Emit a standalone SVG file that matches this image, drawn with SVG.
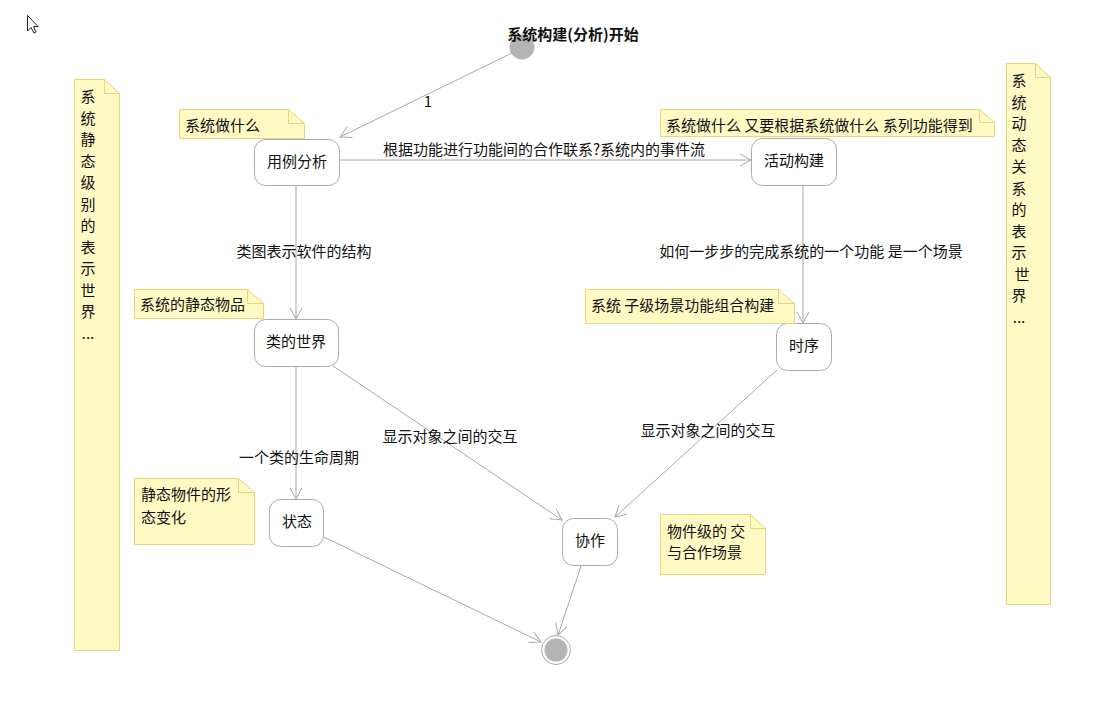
<svg xmlns="http://www.w3.org/2000/svg" width="1097" height="725" viewBox="0 0 1097 725">
<defs>
<marker id="arr" markerWidth="14" markerHeight="14" refX="12" refY="6" orient="auto" markerUnits="userSpaceOnUse">
<path d="M1,0 L12,6 L1,12" fill="none" stroke="#a8a8a8" stroke-width="1"/>
</marker>
<style>
text{font-family:"Microsoft YaHei","Noto Sans CJK SC","Noto Sans",sans-serif;font-size:15px;fill:#111}
.node{fill:#fff;stroke:#aaa;stroke-width:1}
.note{fill:#fff9c4;stroke:#e8d47a;stroke-width:1}
.fold{fill:none;stroke:#e8d47a;stroke-width:1}
.edge{fill:none;stroke:#a8a8a8;stroke-width:1;marker-end:url(#arr)}
.c{text-anchor:middle}
</style>
</defs>
<rect width="1097" height="725" fill="#fff"/>
<path d="M27.5,15.5 L27.5,31 L31,27.5 L34,33 L36,32 L33.5,26.5 L38,26.5 Z" fill="#fff" stroke="#222" stroke-width="1"/>

<g id="connectors">
<line class="edge" x1="512" y1="53" x2="340" y2="137"/>
<text x="428" y="107" class="c">1</text>
<line class="edge" x1="340" y1="160" x2="751" y2="160"/>
<text x="383" y="155">根据功能进行功能间的合作联系?系统内的事件流</text>
<line class="edge" x1="296" y1="186" x2="296" y2="319"/>
<text x="304" y="257" class="c">类图表示软件的结构</text>
<line class="edge" x1="803" y1="186" x2="803" y2="323"/>
<text x="811" y="257" class="c">如何一步步的完成系统的一个功能 是一个场景</text>
<line class="edge" x1="296" y1="367" x2="296" y2="499"/>
<text x="299" y="463" class="c">一个类的生命周期</text>
<line class="edge" x1="333" y1="366" x2="562" y2="520"/>
<text x="450" y="442" class="c">显示对象之间的交互</text>
<line class="edge" x1="777" y1="370" x2="615" y2="517"/>
<text x="708" y="436" class="c">显示对象之间的交互</text>
<line class="edge" x1="581" y1="566" x2="558" y2="635"/>
<line class="edge" x1="324" y1="537" x2="541" y2="642"/>
</g>

<g id="start">
<circle cx="522" cy="47" r="12.5" fill="#b4b4b4"/>
<text x="573" y="40" class="c" font-weight="bold">系统构建(分析)开始</text>
</g>

<g id="n-usecase">
<rect class="node" x="254.5" y="139.5" width="85" height="46" rx="11"/>
<text x="297" y="167" class="c">用例分析</text>
</g>
<g id="n-activity">
<rect class="node" x="751.5" y="138.5" width="85" height="47" rx="11"/>
<text x="794" y="166" class="c">活动构建</text>
</g>
<g id="n-class">
<rect class="node" x="254.5" y="319.5" width="84" height="47" rx="11"/>
<text x="296" y="347" class="c">类的世界</text>
</g>
<g id="n-seq">
<rect class="node" x="776.5" y="323.5" width="55" height="47" rx="11"/>
<text x="804" y="351" class="c">时序</text>
</g>
<g id="n-state">
<rect class="node" x="269.5" y="499.5" width="54" height="47" rx="11"/>
<text x="297" y="527" class="c">状态</text>
</g>
<g id="n-collab">
<rect class="node" x="562.5" y="518.5" width="55" height="47" rx="11"/>
<text x="590" y="546" class="c">协作</text>
</g>
<g id="end">
<circle cx="556" cy="650" r="14.5" fill="#fff" stroke="#aaa" stroke-width="1"/>
<circle cx="556" cy="650" r="11.5" fill="#b4b4b4"/>
</g>

<g id="note-what">
<path class="note" d="M179.5,109.5 H288.5 L304.5,123.5 V138.5 H179.5 Z"/>
<path class="fold" d="M288.5,109.5 V123.5 H304.5"/>
<text x="185" y="131">系统做什么</text>
</g>
<g id="note-activity">
<path class="note" d="M660.5,109.5 H979.5 L994.5,122.5 V136.5 H660.5 Z"/>
<path class="fold" d="M979.5,109.5 V122.5 H994.5"/>
<text x="666" y="131">系统做什么 又要根据系统做什么 系列功能得到</text>
</g>
<g id="note-static">
<path class="note" d="M134.5,289.5 H247.5 L263.5,303.5 V318.5 H134.5 Z"/>
<path class="fold" d="M247.5,289.5 V303.5 H263.5"/>
<text x="140" y="310">系统的静态物品</text>
</g>
<g id="note-sub">
<path class="note" d="M585.5,289.5 H778.5 L794.5,303.5 V323.5 H585.5 Z"/>
<path class="fold" d="M778.5,289.5 V303.5 H794.5"/>
<text x="591" y="311">系统 子级场景功能组合构建</text>
</g>
<g id="note-form">
<path class="note" d="M134.5,478.5 H238.5 L254.5,492.5 V544.5 H134.5 Z"/>
<path class="fold" d="M238.5,478.5 V492.5 H254.5"/>
<text x="141" y="500">静态物件的形</text>
<text x="141" y="523">态变化</text>
</g>
<g id="note-obj">
<path class="note" d="M660.5,514.5 H750.5 L765.5,528.5 V574.5 H660.5 Z"/>
<path class="fold" d="M750.5,514.5 V528.5 H765.5"/>
<text x="667" y="537">物件级的 交</text>
<text x="667" y="558">与合作场景</text>
</g>
<g id="note-left">
<path class="note" d="M74.5,79.5 H104.5 L119.5,93.5 V650.5 H74.5 Z"/>
<path class="fold" d="M104.5,79.5 V93.5 H119.5"/>
<text class="c" x="88">
<tspan x="88" y="102">系</tspan><tspan x="88" y="123.5">统</tspan><tspan x="88" y="145">静</tspan><tspan x="88" y="166.5">态</tspan><tspan x="88" y="188">级</tspan><tspan x="88" y="209.5">别</tspan><tspan x="88" y="231">的</tspan><tspan x="88" y="252.5">表</tspan><tspan x="88" y="274">示</tspan><tspan x="88" y="295.5">世</tspan><tspan x="88" y="317">界</tspan><tspan x="88" y="338.5">...</tspan>
</text>
</g>
<g id="note-right">
<path class="note" d="M1006.5,63.5 H1035.5 L1050.5,77.5 V604.5 H1006.5 Z"/>
<path class="fold" d="M1035.5,63.5 V77.5 H1050.5"/>
<text class="c" x="1019">
<tspan x="1019" y="86">系</tspan><tspan x="1019" y="107.5">统</tspan><tspan x="1019" y="129">动</tspan><tspan x="1019" y="150.5">态</tspan><tspan x="1019" y="172">关</tspan><tspan x="1019" y="193.5">系</tspan><tspan x="1019" y="215">的</tspan><tspan x="1019" y="236.5">表</tspan><tspan x="1019" y="258">示</tspan><tspan x="1022" y="279.5">世</tspan><tspan x="1019" y="301">界</tspan><tspan x="1019" y="322.5">...</tspan>
</text>
</g>
</svg>
